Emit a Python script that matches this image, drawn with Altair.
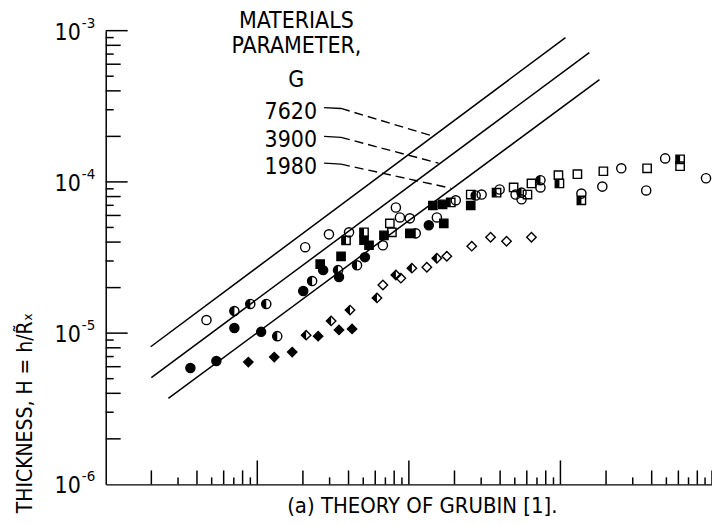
import altair as alt
import pandas as pd

FONT = "Liberation Sans Narrow, DejaVu Sans Condensed, Liberation Sans, sans-serif"

X_DOMAIN = [1e-12, 1e-8]
Y_DOMAIN = [1e-6, 1e-3]

# ---------------- measured points ----------------
open_circle_x = [4.62e-12, 2.07e-11, 2.97e-11, 4.03e-11, 6.74e-11, 8.73e-11, 8.21e-11, 1.015e-10,
                 1.53e-10, 2.04e-10, 3.02e-10, 3.97e-10, 5.06e-10, 5.54e-10, 7.38e-10, 1.375e-9,
                 1.89e-9, 2.52e-9, 3.68e-9, 4.91e-9, 9.13e-9]
open_circle_y = [1.22e-5, 3.70e-5, 4.50e-5, 4.64e-5, 3.81e-5, 5.82e-5, 6.77e-5, 5.74e-5,
                 5.82e-5, 7.55e-5, 8.25e-5, 8.91e-5, 8.25e-5, 7.67e-5, 9.19e-5, 8.37e-5,
                 9.31e-5, 1.23e-4, 8.78e-5, 1.43e-4, 1.057e-4]

half_circle_x = [7.06e-12, 8.99e-12, 1.146e-11, 1.354e-11, 2.30e-11, 3.41e-11, 4.55e-11, 1.11e-10,
                 2.76e-10, 5.54e-10, 7.38e-10]
half_circle_y = [1.40e-5, 1.56e-5, 1.56e-5, 9.55e-6, 2.21e-5, 2.61e-5, 2.81e-5, 4.57e-5,
                 8.13e-5, 8.49e-5, 1.026e-4]

filled_circle_x = [3.62e-12, 5.37e-12, 7.06e-12, 1.06e-11, 2.01e-11, 2.72e-11, 3.46e-11, 5.13e-11,
                   1.354e-10]
filled_circle_y = [5.88e-6, 6.54e-6, 1.08e-5, 1.02e-5, 1.90e-5, 2.61e-5, 2.35e-5, 3.18e-5,
                   5.17e-5]

open_square_x = [7.49e-11, 7.73e-11, 2.56e-10, 4.91e-10, 6.06e-10, 6.44e-10, 9.70e-10, 1.294e-9,
                 1.92e-9, 3.73e-9, 6.16e-9]
open_square_y = [5.32e-5, 4.64e-5, 8.25e-5, 9.19e-5, 8.25e-5, 9.77e-5, 1.107e-4, 1.124e-4,
                 1.176e-4, 1.23e-4, 1.27e-4]

half_square_x = [3.85e-11, 5.06e-11, 1.89e-10, 3.79e-10, 9.85e-10, 1.375e-9, 6.16e-9]
half_square_y = [4.11e-5, 4.64e-5, 7.31e-5, 8.49e-5, 9.77e-5, 7.55e-5, 1.41e-4]

filled_square_x = [2.60e-11, 3.57e-11, 5.06e-11, 5.46e-11, 6.85e-11, 1.015e-10, 1.44e-10, 1.67e-10,
                   1.70e-10, 2.56e-10]
filled_square_y = [2.86e-5, 3.22e-5, 4.11e-5, 3.81e-5, 4.43e-5, 4.57e-5, 6.98e-5, 7.10e-5,
                   5.32e-5, 6.98e-5]

open_diamond_x = [6.74e-11, 8.86e-11, 1.314e-10, 1.78e-10, 2.60e-10, 3.46e-10, 4.41e-10, 6.44e-10]
open_diamond_y = [2.08e-5, 2.31e-5, 2.73e-5, 3.22e-5, 3.76e-5, 4.30e-5, 4.05e-5, 4.30e-5]

half_diamond_x = [2.10e-11, 3.07e-11, 4.09e-11, 6.16e-11, 8.21e-11, 1.047e-10, 1.53e-10]
half_diamond_y = [9.70e-6, 1.205e-5, 1.42e-5, 1.71e-5, 2.42e-5, 2.69e-5, 3.13e-5]

filled_diamond_x = [8.73e-12, 1.294e-11, 1.70e-11, 2.52e-11, 3.46e-11, 4.22e-11]
filled_diamond_y = [6.44e-6, 6.95e-6, 7.50e-6, 9.55e-6, 1.05e-5, 1.067e-5]

# ---------------- theory lines (Grubin) ----------------
g_labels = ["7620", "3900", "1980"]
line_x_start = [1.98e-12, 2.0e-12, 2.59e-12]
line_x_end = [1.08e-9, 1.55e-9, 1.81e-9]
line_y_start = [8.13e-6, 5.08e-6, 3.70e-6]
line_y_end = [9.0e-4, 7.16e-4, 4.75e-4]

# leader lines from labels to theory lines
label_x = [2.48e-11, 2.48e-11, 2.48e-11]
label_y = [2.88e-4, 1.88e-4, 1.25e-4]
stub_x0 = [2.76e-11, 2.76e-11, 2.76e-11]
stub_x1 = [3.57e-11, 3.57e-11, 3.57e-11]
stub_y0 = [3.10e-4, 2.00e-4, 1.33e-4]
stub_y1 = [3.06e-4, 1.97e-4, 1.31e-4]
lead_x_end = [1.46e-10, 1.57e-10, 1.89e-10]
lead_y_end = [2.00e-4, 1.33e-4, 9.09e-5]

header_text = ["MATERIALS", "PARAMETER,", "G"]
header_x = [1.81e-11, 1.81e-11, 1.81e-11]
header_y = [1.15e-3, 7.96e-4, 4.75e-4]

y_label_values = [1e-6, 1e-5, 1e-4, 1e-3]
y_label_exps = ["-6", "-5", "-4", "-3"]

# axis tick positions
x_dec_ticks = [1e-11, 1e-10, 1e-9]
x_even_ticks = [m * 10.0 ** e for e in range(-12, -8) for m in (2, 4, 6, 8)] + [1e-8]
x_odd_ticks = [m * 10.0 ** e for e in range(-12, -8) for m in (3, 5, 7, 9)]
y_dec_ticks = [1e-5, 1e-4, 1e-3]
y_even_ticks = [m * 10.0 ** e for e in range(-6, -3) for m in (2, 4, 6, 8)]
y_odd_ticks = [m * 10.0 ** e for e in range(-6, -3) for m in (3, 5, 7, 9)]

W, H = 608, 455


def X():
    return alt.X("x:Q", scale=alt.Scale(type="log", domain=X_DOMAIN),
                 axis=alt.Axis(title="(a) THEORY OF GRUBIN [1].", labels=False, ticks=False,
                               grid=False, domainColor="black", domainWidth=1.5,
                               titleFont=FONT, titleFontSize=22, titleFontWeight="normal",
                               titleColor="black", titleX=317, titleY=28,
                               titleBaseline="alphabetic"))


def Y():
    return alt.Y("y:Q", scale=alt.Scale(type="log", domain=Y_DOMAIN),
                 axis=alt.Axis(title="THICKNESS, H = h/R\u0303\u2093", labels=False, ticks=False,
                               grid=False, domainColor="black", domainWidth=1.5,
                               titleFont=FONT, titleFontSize=21, titleFontWeight="normal",
                               titleColor="black", titleX=-74, titleY=383, titleAngle=270,
                               titleBaseline="alphabetic"))


layers = []

# theory lines
rows = []
for g, xs, xe, ys, ye in zip(g_labels, line_x_start, line_x_end, line_y_start, line_y_end):
    rows.append({"g": g, "x": xs, "y": ys, "o": 0})
    rows.append({"g": g, "x": xe, "y": ye, "o": 1})
layers.append(alt.Chart(pd.DataFrame(rows)).mark_line(color="black", strokeWidth=1.5).encode(
    x=X(), y=Y(), detail="g:N", order="o:Q"))

# stubs (solid) and dashed leaders
rows_s, rows_d = [], []
for g, a, b, c, d, e, f in zip(g_labels, stub_x0, stub_x1, stub_y0, stub_y1, lead_x_end, lead_y_end):
    rows_s += [{"g": g, "x": a, "y": c, "o": 0}, {"g": g, "x": b, "y": d, "o": 1}]
    rows_d += [{"g": g, "x": b, "y": d, "o": 0}, {"g": g, "x": e, "y": f, "o": 1}]
layers.append(alt.Chart(pd.DataFrame(rows_s)).mark_line(color="black", strokeWidth=1.4).encode(
    x=X(), y=Y(), detail="g:N", order="o:Q"))
layers.append(alt.Chart(pd.DataFrame(rows_d)).mark_line(color="black", strokeWidth=1.4,
                                                         strokeDash=[9, 5]).encode(
    x=X(), y=Y(), detail="g:N", order="o:Q"))

# ticks (drawn inside the frame)
for vals, ln in [(x_dec_ticks, 24), (x_even_ticks, 14), (x_odd_ticks, 7)]:
    layers.append(alt.Chart(pd.DataFrame({"x": vals})).mark_rule(color="black", strokeWidth=1.5).encode(
        x=X(), y=alt.value(H), y2=alt.value(H - ln)))
for vals, ln in [(y_dec_ticks, 22), (y_even_ticks, 15), (y_odd_ticks, 8)]:
    layers.append(alt.Chart(pd.DataFrame({"y": vals})).mark_rule(color="black", strokeWidth=1.5).encode(
        y=Y(), x=alt.value(0), x2=alt.value(ln)))

SIZES = {"circle": 85, "square": 70, "diamond": 90}
HALF = {"circle": "M0,-1A1,1,0,0,0,0,1Z",
        "square": "M-1,-1L0,-1L0,1L-1,1Z",
        "diamond": "M0,-1L-1,0L0,1Z"}

groups = [
    ("circle", "open", open_circle_x, open_circle_y),
    ("circle", "half", half_circle_x, half_circle_y),
    ("circle", "filled", filled_circle_x, filled_circle_y),
    ("square", "open", open_square_x, open_square_y),
    ("square", "half", half_square_x, half_square_y),
    ("square", "filled", filled_square_x, filled_square_y),
    ("diamond", "open", open_diamond_x, open_diamond_y),
    ("diamond", "half", half_diamond_x, half_diamond_y),
    ("diamond", "filled", filled_diamond_x, filled_diamond_y),
]
for shape, kind, xs, ys in groups:
    base = alt.Chart(pd.DataFrame({"x": xs, "y": ys}))
    sz = SIZES[shape]
    if kind == "filled":
        layers.append(base.mark_point(shape=shape, size=sz, filled=True, fill="black", stroke="black",
                                      strokeWidth=1.3, opacity=1).encode(x=X(), y=Y()))
    else:
        layers.append(base.mark_point(shape=shape, size=sz, filled=False, stroke="black",
                                      strokeWidth=1.4, opacity=1).encode(x=X(), y=Y()))
        if kind == "half":
            layers.append(base.mark_point(shape=HALF[shape], size=sz, filled=True, fill="black",
                                          strokeWidth=0, opacity=1).encode(x=X(), y=Y()))

# texts
layers.append(alt.Chart(pd.DataFrame({"x": header_x, "y": header_y, "t": header_text})).mark_text(
    font=FONT, fontSize=23, align="center", baseline="middle", color="black").encode(
    x=X(), y=Y(), text="t:N"))
layers.append(alt.Chart(pd.DataFrame({"x": label_x, "y": label_y, "t": g_labels})).mark_text(
    font=FONT, fontSize=23, align="right", baseline="middle", color="black").encode(
    x=X(), y=Y(), text="t:N"))
ylab = pd.DataFrame({"x": [X_DOMAIN[0]] * 4, "y": y_label_values, "t": ["10"] * 4, "e": y_label_exps})
layers.append(alt.Chart(ylab).mark_text(font=FONT, fontSize=23, align="right", baseline="middle",
                                        dx=-25, dy=2, color="black").encode(x=X(), y=Y(), text="t:N"))
layers.append(alt.Chart(ylab).mark_text(font=FONT, fontSize=15, align="left", baseline="middle",
                                        dx=-24, dy=-8, color="black").encode(x=X(), y=Y(), text="e:N"))

chart = alt.layer(*layers).properties(
    width=W, height=H,
    autosize=alt.AutoSizeParams(type="none"),
    padding={"left": 98, "top": 22, "right": 0, "bottom": 36},
    background="white",
).configure_view(stroke=None)

chart.save("out.html", embed_options={"renderer": "svg", "actions": False})
